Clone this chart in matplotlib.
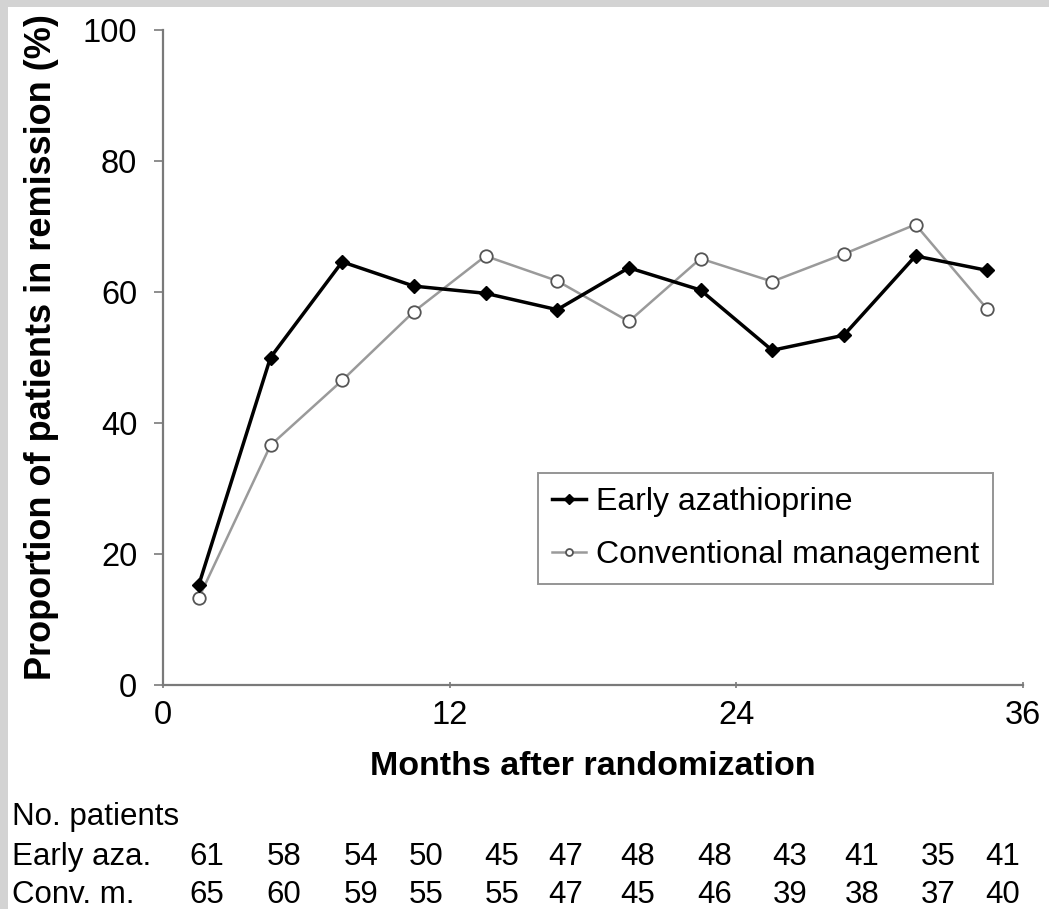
import matplotlib

matplotlib.use("Agg")
import matplotlib.pyplot as plt
from matplotlib.patches import Rectangle

# data
months = [1.5, 4.5, 7.5, 10.5, 13.5, 16.5, 19.5, 22.5, 25.5, 28.5, 31.5, 34.5]
early_aza = [15.3, 50.0, 64.6, 60.9, 59.8, 57.3, 63.7, 60.3, 51.1, 53.4, 65.5, 63.3]
conv_mgmt = [13.3, 36.6, 46.5, 57.0, 65.5, 61.7, 55.5, 65.1, 61.6, 65.8, 70.3, 57.4]

n_early = [61, 58, 54, 50, 45, 47, 48, 48, 43, 41, 35, 41]
n_conv = [65, 60, 59, 55, 55, 47, 45, 46, 39, 38, 37, 40]

x_ticks = [0, 12, 24, 36]
y_ticks = [0, 20, 40, 60, 80, 100]

# layout (pixels in the 1049x909 canvas)
W, H = 1049, 909
col_x = [207, 284, 361, 426, 502, 566, 638, 715, 790, 862, 938, 1003]

plt.rcParams["font.family"] = ["Liberation Sans", "DejaVu Sans"]

fig = plt.figure(figsize=(W / 100, H / 100), dpi=100, facecolor="white")
fig.patches.append(Rectangle((0, 0), 8 / W, 1, transform=fig.transFigure,
                             facecolor="#d3d3d3", edgecolor="none", zorder=0))
fig.patches.append(Rectangle((0, 1 - 7 / H), 1, 7 / H, transform=fig.transFigure,
                             facecolor="#d3d3d3", edgecolor="none", zorder=0))

ax = fig.add_axes([163 / W, 1 - 685 / H, 860 / W, 655 / H])
ax.plot(months, early_aza, color="black", lw=2.5, marker="D", ms=7,
        markerfacecolor="black", markeredgecolor="black", label="Early azathioprine",
        clip_on=False, zorder=3)
ax.plot(months, conv_mgmt, color="#9a9a9a", lw=1.8, marker="o", ms=9,
        markerfacecolor="white", markeredgecolor="#555555", markeredgewidth=1.3,
        label="Conventional management", clip_on=False, zorder=2)

ax.set_xlim(0, 36)
ax.set_ylim(0, 100)
ax.set_xticks(x_ticks)
ax.set_yticks(y_ticks)
for s in ("top", "right"):
    ax.spines[s].set_visible(False)
for s in ("left", "bottom"):
    ax.spines[s].set_color("#7a7a7a")
    ax.spines[s].set_linewidth(1.6)
ax.tick_params(axis="y", direction="out", length=6.5, width=1.2, color="#7a7a7a",
               pad=12, labelsize=23.5)
ax.tick_params(axis="x", direction="inout", length=5, width=1.2, color="#7a7a7a",
               pad=8, labelsize=23.5)

ax.set_xlabel("Months after randomization", fontsize=24.5, fontweight="bold", labelpad=15)
fig.text(42 / W, 1 - 347 / H, "Proportion of patients in remission (%)",
         rotation=90, ha="center", va="center", fontsize=26, fontweight="bold")

leg = ax.legend(loc="upper left", bbox_to_anchor=(538 / W, 1 - 473 / H),
                bbox_transform=fig.transFigure, fontsize=23, frameon=True,
                fancybox=False, handlelength=1.05, handletextpad=0.3,
                borderpad=0.45, labelspacing=0.7, borderaxespad=0)
leg.get_frame().set_edgecolor("#7a7a7a")
leg.get_frame().set_linewidth(1.4)
for h in leg.legend_handles:
    h.set_markersize(5)

# number at risk table
tfs = 22.5
fig.text(12 / W, 1 - 817 / H, "No. patients", fontsize=tfs, va="center", ha="left")
fig.text(12 / W, 1 - 857 / H, "Early aza.", fontsize=tfs, va="center", ha="left")
fig.text(12 / W, 1 - 895 / H, "Conv. m.", fontsize=tfs, va="center", ha="left")
for x, a, c in zip(col_x, n_early, n_conv):
    fig.text(x / W, 1 - 857 / H, str(a), fontsize=tfs, va="center", ha="center")
    fig.text(x / W, 1 - 895 / H, str(c), fontsize=tfs, va="center", ha="center")

fig.savefig("out.png", dpi=100, facecolor=fig.get_facecolor())
